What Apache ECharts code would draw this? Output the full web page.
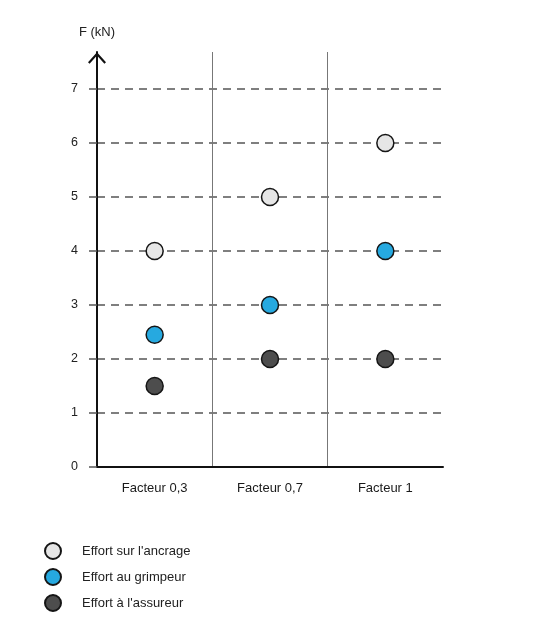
<!DOCTYPE html>
<html>
<head>
<meta charset="utf-8">
<script src="https://cdn.jsdelivr.net/npm/echarts@6/dist/echarts.min.js"></script>
<style>html,body{margin:0;padding:0;background:#fff}#c{width:540px;height:640px}</style>
</head>
<body>
<div id="c"></div>
<script>
const categories = ['Facteur 0,3', 'Facteur 0,7', 'Facteur 1'];
const yTicks = [0, 1, 2, 3, 4, 5, 6, 7];
const seriesNames = ["Effort sur l'ancrage", 'Effort au grimpeur', "Effort à l'assureur"];
const ancrage = [4, 5, 6];
const grimpeur = [2.45, 3, 4];
const assureur = [1.5, 2, 2];
const axisName = 'F (kN)';

const FONT = "'Liberation Sans', Arial, sans-serif";
const colors = ['#e6e6e6', '#26a9e0', '#4d4d4d'];
const chart = echarts.init(document.getElementById('c'), null, {renderer: 'canvas'});
const values = [ancrage, grimpeur, assureur];

chart.setOption({
  animation: false,
  backgroundColor: '#fff',
  grid: [
    {left: 97, right: 97, top: 89, height: 378},
    {left: 97, right: 97, top: 52, height: 415}
  ],
  xAxis: [
    {
      type: 'category', gridIndex: 0, data: categories, boundaryGap: true,
      axisLine: {show: true, lineStyle: {color: '#111', width: 2}},
      axisTick: {show: false},
      axisLabel: {margin: 15, fontSize: 13, color: '#1a1a1a', fontFamily: FONT},
      splitLine: {show: false}
    },
    {
      type: 'category', gridIndex: 1, data: categories, boundaryGap: true,
      axisLine: {show: false}, axisTick: {show: false}, axisLabel: {show: false},
      splitLine: {show: true, showMinLine: false, showMaxLine: false, lineStyle: {color: '#777', width: 1}}
    }
  ],
  yAxis: [
    {
      type: 'value', gridIndex: 0, min: yTicks[0], max: yTicks[yTicks.length - 1], interval: 1,
      axisLine: {show: false},
      axisTick: {show: true, length: 8, lineStyle: {color: '#555', width: 1.5}},
      axisLabel: {margin: 19, fontSize: 12.5, color: '#222', fontFamily: FONT},
      splitLine: {show: true, showMinLine: false, lineStyle: {color: '#555', width: 1.5, type: [8, 6]}}
    },
    {
      type: 'value', gridIndex: 1, min: 0, max: 1,
      name: axisName, nameLocation: 'end', nameGap: 13,
      nameTextStyle: {fontSize: 13, color: '#222', fontFamily: FONT, align: 'center'},
      axisLine: {
        show: true, lineStyle: {color: '#111', width: 2},
        symbol: ['none', 'path://M9,0 L18,10 L16.4,11.6 L9,3.2 L1.6,11.6 L0,10 Z'],
        symbolSize: [18, 12], symbolOffset: [0, -6]
      },
      axisTick: {show: false}, axisLabel: {show: false}, splitLine: {show: false}
    }
  ],
  legend: {
    orient: 'vertical', left: 44, top: 542, padding: 0,
    itemWidth: 16, itemHeight: 16, itemGap: 8, icon: 'circle',
    data: seriesNames,
    textStyle: {fontSize: 13, color: '#222', fontFamily: FONT, padding: [0, 0, 0, 16]}
  },
  series: seriesNames.map((n, i) => ({
    name: n, type: 'scatter', xAxisIndex: 0, yAxisIndex: 0,
    symbol: 'circle', symbolSize: 17,
    itemStyle: {color: colors[i], borderColor: '#151515', borderWidth: 1.5, opacity: 1},
    data: values[i],
    z: 3
  }))
});
</script>
</body>
</html>
